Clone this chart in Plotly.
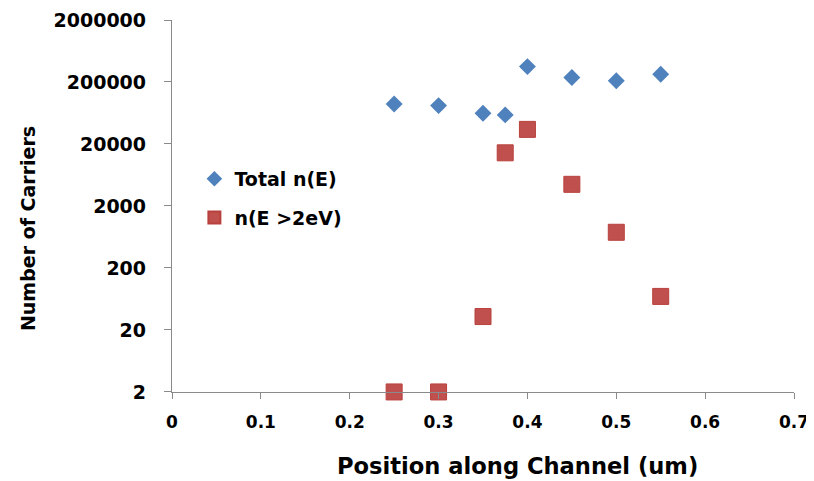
import plotly.graph_objects as go

x_pos = [0.25, 0.30, 0.35, 0.375, 0.40, 0.45, 0.50, 0.55]
total_n = [88300, 83200, 62700, 58900, 354000, 236000, 209000, 267000]
high_n = [2, 2, 32.9, 14400, 34400, 4470, 753, 69.5]

y_ticks = [2, 20, 200, 2000, 20000, 200000, 2000000]
y_tick_text = ["2", "20", "200", "2000", "20000", "200000", "2000000"]
x_ticks = [0, 0.1, 0.2, 0.3, 0.4, 0.5, 0.6, 0.7]
x_tick_text = ["0", "0.1", "0.2", "0.3", "0.4", "0.5", "0.6", "0.7"]

x_title = "Position along Channel (um)"
y_title = "Number of Carriers"

font_fam = "DejaVu Sans"

fig = go.Figure()
fig.add_trace(go.Scatter(
    x=x_pos, y=total_n, mode="markers", name="Total n(E)",
    legendgroup="a",
    marker=dict(symbol="diamond", size=13, color="#4F81BD",
                line=dict(width=0)),
    cliponaxis=False,
))
fig.add_trace(go.Scatter(
    x=x_pos, y=high_n, mode="markers", name="n(E >2eV)",
    legendgroup="b",
    marker=dict(symbol="square", size=16, color="#C0504D",
                line=dict(width=1, color="#B8403D")),
    cliponaxis=False,
))

fig.update_layout(
    width=806, height=473,
    margin=dict(l=164, r=20, t=12, b=89),
    paper_bgcolor="white", plot_bgcolor="white",
    font=dict(family=font_fam, color="#000000"),
    showlegend=True,
    legend=dict(x=0.036, y=0.624, xanchor="left", yanchor="top",
                bgcolor="rgba(0,0,0,0)",
                font=dict(family=font_fam, size=19, weight="bold"),
                itemsizing="constant", traceorder="grouped",
                tracegroupgap=11, itemwidth=30),
    annotations=[
        dict(text=x_title, xref="paper", yref="paper",
             x=0.5547, y=-0.199, xanchor="center", yanchor="middle",
             showarrow=False,
             font=dict(family=font_fam, size=22.6, weight="bold")),
        dict(text=y_title, xref="paper", yref="paper",
             x=-0.2315, y=0.438, xanchor="center", yanchor="middle",
             textangle=-90, showarrow=False,
             font=dict(family=font_fam, size=19, weight="bold")),
    ],
)
fig.update_xaxes(
    range=[0, 0.7], tickvals=x_ticks, ticktext=x_tick_text,
    showgrid=False, zeroline=False, automargin=False,
    showline=True, linecolor="#8a8a8a", linewidth=1.3,
    ticks="outside", ticklen=6, tickcolor="#8a8a8a",
    ticklabelstandoff=8, ticklabeloverflow="allow",
    tickfont=dict(family=font_fam, size=17, weight="bold"),
)
fig.update_yaxes(
    type="log", range=[0.3000, 6.30103],
    tickvals=y_ticks, ticktext=y_tick_text,
    showgrid=False, zeroline=False, automargin=False,
    showline=True, linecolor="#8a8a8a", linewidth=1.3,
    ticks="outside", ticklen=7, tickcolor="#8a8a8a",
    ticklabelstandoff=14, ticklabeloverflow="allow",
    tickfont=dict(family=font_fam, size=19, weight="bold"),
)

fig.write_html("out.html")
